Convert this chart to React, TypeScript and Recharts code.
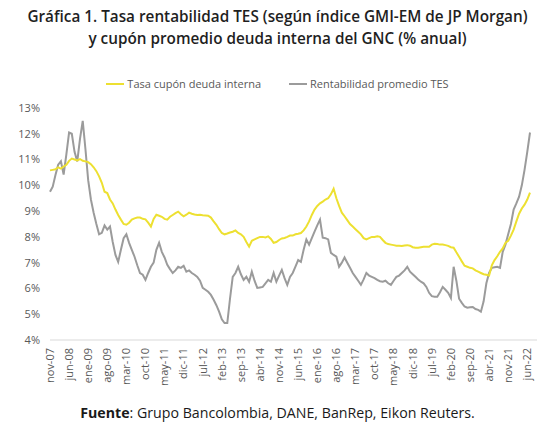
import { LineChart, Line, XAxis, YAxis } from 'recharts'

// meses en español, la serie arranca en nov-07 (mensual)
const monthNames = ['ene', 'feb', 'mar', 'abr', 'may', 'jun', 'jul', 'ago', 'sep', 'oct', 'nov', 'dic']
const startYear = 2007
const startMonth = 10 // nov

// Tasa cupón deuda interna (%)
const cupon = [
  10.58, 10.6, 10.62, 10.7, 10.65, 10.73, 10.8, 10.95, 11.04, 11.0, 10.97, 11.02, 10.95, 10.93,
  10.9, 10.82, 10.7, 10.55, 10.35, 10.1, 9.75, 9.7, 9.45, 9.3, 9.06, 8.85, 8.67, 8.5,
  8.47, 8.55, 8.67, 8.72, 8.75, 8.75, 8.7, 8.68, 8.55, 8.4, 8.7, 8.86, 8.82, 8.78,
  8.7, 8.67, 8.78, 8.85, 8.92, 8.98, 8.88, 8.8, 8.86, 8.94, 8.9, 8.87, 8.85, 8.86,
  8.84, 8.83, 8.82, 8.75, 8.6, 8.47, 8.3, 8.15, 8.1, 8.13, 8.17, 8.2, 8.25, 8.15,
  8.1, 8.0, 7.8, 7.62, 7.85, 7.9, 7.95, 8.0, 8.0, 7.98, 8.02, 7.92, 7.77, 7.8,
  7.88, 7.94, 7.96, 8.0, 8.05, 8.05, 8.1, 8.12, 8.15, 8.25, 8.4, 8.6, 8.85, 9.06,
  9.2, 9.3, 9.37, 9.45, 9.5, 9.65, 9.87, 9.5, 9.2, 8.94, 8.8, 8.65, 8.5, 8.4,
  8.3, 8.2, 8.1, 7.95, 7.9, 7.95, 8.0, 8.0, 8.02, 8.0, 7.88, 7.77, 7.72, 7.7,
  7.68, 7.66, 7.66, 7.65, 7.67, 7.68, 7.66, 7.6, 7.58, 7.58, 7.6, 7.62, 7.62, 7.62,
  7.7, 7.73, 7.72, 7.7, 7.7, 7.68, 7.65, 7.6, 7.58, 7.4, 7.23, 7.05, 6.88, 6.84,
  6.8, 6.78, 6.7, 6.65, 6.6, 6.55, 6.53, 6.5, 6.9, 7.1, 7.25, 7.42, 7.55, 7.77,
  7.85, 8.05, 8.28, 8.6, 8.9, 9.1, 9.25, 9.45, 9.72,
]

// Rentabilidad promedio TES (%)
const tes = [
  9.75, 9.95, 10.4, 10.8, 10.93, 10.42, 11.2, 12.05, 12.0, 11.3, 10.93, 11.8, 12.5, 11.4,
  10.2, 9.45, 8.94, 8.5, 8.1, 8.16, 8.44, 8.28, 8.4, 7.8, 7.3, 7.03, 7.5, 7.95,
  8.1, 7.77, 7.5, 7.23, 6.9, 6.6, 6.53, 6.33, 6.6, 6.84, 7.0, 7.5, 7.77, 7.42,
  7.2, 6.92, 6.75, 6.6, 6.7, 6.84, 6.8, 6.88, 6.65, 6.7, 6.6, 6.53, 6.45, 6.3,
  6.02, 5.95, 5.87, 5.75, 5.56, 5.35, 5.1, 4.8, 4.66, 4.66, 5.6, 6.45, 6.6, 6.84,
  6.55, 6.33, 6.45, 6.26, 6.65, 6.3, 6.02, 6.04, 6.06, 6.2, 6.33, 6.26, 6.6, 6.26,
  6.5, 6.72, 6.4, 6.14, 6.45, 6.6, 6.85, 7.1, 7.03, 7.5, 7.9, 7.7, 7.95, 8.2,
  8.45, 8.67, 7.97, 7.95, 7.9, 7.38, 7.3, 7.23, 6.84, 7.0, 7.2, 7.0, 6.8, 6.6,
  6.45, 6.3, 6.14, 6.35, 6.6, 6.5, 6.45, 6.4, 6.33, 6.28, 6.26, 6.3, 6.2, 6.14,
  6.3, 6.45, 6.5, 6.6, 6.7, 6.84, 6.65, 6.55, 6.45, 6.35, 6.26, 6.2, 6.06, 5.83,
  5.7, 5.68, 5.68, 5.85, 6.06, 5.95, 5.83, 5.63, 6.84, 6.3, 5.6, 5.44, 5.3, 5.25,
  5.27, 5.28, 5.2, 5.17, 5.1, 5.5, 6.2, 6.6, 6.8, 6.82, 6.84, 6.8, 7.42, 7.7,
  8.1, 8.5, 9.06, 9.3, 9.56, 10.0, 10.6, 11.3, 12.05,
]

const yTicks = [4, 5, 6, 7, 8, 9, 10, 11, 12, 13]

const labels = cupon.map((_, i) => {
  const m = startMonth + i
  const year = startYear + Math.floor(m / 12)
  return `${monthNames[m % 12]}-${String(year).slice(2)}`
})

const data = labels.map((label, i) => ({ label, cupon: cupon[i], tes: tes[i] }))

const YELLOW = '#EDE031'
const GRAY = '#9B9B9B'
const FONT = '"Open Sans", sans-serif'

const XTick = (props: any) => {
  const { x, y, payload } = props
  return (
    <text
      x={x}
      y={y}
      transform={`rotate(-90 ${x} ${y})`}
      textAnchor="end"
      dy="0.35em"
      fill="#595959"
      fontSize={11}
      fontFamily={FONT}
    >
      {payload.value}
    </text>
  )
}

export default function App() {
  return (
    <div
      style={{
        position: 'absolute',
        left: 0,
        top: 0,
        width: 555,
        height: 431,
        background: '#fff',
        fontFamily: FONT,
      }}
    >
      <div
        style={{
          position: 'absolute',
          top: 5,
          width: 555,
          textAlign: 'center',
          fontSize: 15.3,
          fontWeight: 600,
          lineHeight: '22px',
          color: '#1f1f1f',
        }}
      >
        Gráfica 1. Tasa rentabilidad TES (según índice GMI-EM de JP Morgan)
        <br />y cupón promedio deuda interna del GNC (% anual)
      </div>

      <div
        style={{
          position: 'absolute',
          top: 76,
          width: 555,
          display: 'flex',
          justifyContent: 'center',
          fontSize: 11,
          color: '#595959',
          lineHeight: '16px',
        }}
      >
        <span style={{ display: 'flex', alignItems: 'center', marginRight: 28 }}>
          <span style={{ width: 18, height: 2, background: YELLOW, marginRight: 3 }} />
          Tasa cupón deuda interna
        </span>
        <span style={{ display: 'flex', alignItems: 'center' }}>
          <span style={{ width: 18, height: 2, background: GRAY, marginRight: 3 }} />
          Rentabilidad promedio TES
        </span>
      </div>

      <div style={{ position: 'absolute', left: 0, top: 0 }}>
        <LineChart width={555} height={431} data={data} margin={{ top: 108, right: 18, left: 0, bottom: 0 }}>
          <XAxis
            dataKey="label"
            interval={6}
            height={91}
            tick={<XTick />}
            tickLine={false}
            axisLine={{ stroke: '#d9d9d9' }}
            padding={{ left: 0, right: 7 }}
          />
          <YAxis
            domain={[4, 13]}
            ticks={yTicks}
            width={50}
            tickFormatter={(v) => `${v}%`}
            tick={{ fontSize: 11, fill: '#595959', fontFamily: FONT }}
            axisLine={false}
            tickLine={false}
            tickMargin={4}
          />
          <Line
            type="linear"
            dataKey="tes"
            stroke={GRAY}
            strokeWidth={2}
            dot={false}
            isAnimationActive={false}
          />
          <Line
            type="linear"
            dataKey="cupon"
            stroke={YELLOW}
            strokeWidth={2}
            dot={false}
            isAnimationActive={false}
          />
        </LineChart>
      </div>

      <div
        style={{
          position: 'absolute',
          top: 403,
          width: 555,
          textAlign: 'center',
          fontSize: 14.2,
          color: '#1a1a1a',
        }}
      >
        <b>Fuente</b>: Grupo Bancolombia, DANE, BanRep, Eikon Reuters.
      </div>
    </div>
  )
}
